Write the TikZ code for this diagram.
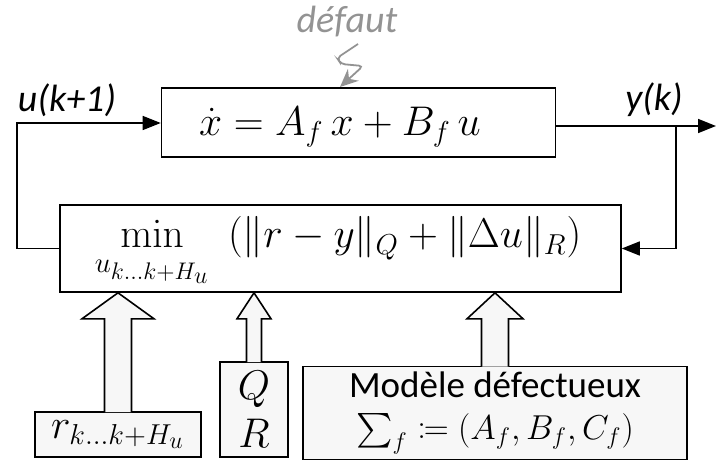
\documentclass[tikz,border=0pt]{standalone}
\usepackage{amsmath,mathtools}
\usepackage[no-math]{fontspec}
\setmainfont{Carlito}
\DeclareMathSizes{19}{20}{15}{12}
\DeclareMathSizes{18.5}{18}{13}{10}
\usetikzlibrary{arrows.meta,calc,positioning}

\begin{document}
\begin{tikzpicture}[
  x=0.5pt, y=-0.5pt,
  font=\fontsize{19}{22}\selectfont,
  block/.style={rectangle, draw, line width=0.8pt, inner sep=0pt},
  inbox/.style={rectangle, draw, line width=0.8pt, fill=gray!6, inner sep=0pt},
  fat/.style={draw, line width=0.8pt, fill=gray!6, line join=miter},
  sig/.style={line width=0.8pt, -{Triangle[length=9pt,width=7pt]}},
  lbl/.style={font=\fontsize{19}{22}\selectfont\itshape}
]
\useasboundingbox (0,0) rectangle (716,464);

% main blocks
\node[block, minimum width=197pt, minimum height=34.5pt] (plant) at (358.5,122.5) {};
\node at (340,127) {$\dot{x} = A_f\,x + B_f\,u$};
\node[block, minimum width=280.5pt, minimum height=43.5pt] (mpc) at (340.5,248.5) {};
\node at (338,252) {$\displaystyle\min_{u_{k\dots k+H_u}}\;\left(\|r-y\|_Q+\|\Delta u\|_R\right)$};

% inputs of the optimiser
\node[inbox, minimum width=83pt, minimum height=22.5pt] (ref) at (118,434.5) {$r_{k\dots k+H_u}$};
\node[inbox, minimum width=34pt, minimum height=47.5pt, align=center] (weights) at (254,409.5) {$Q$\\[2pt]$R$};
\node[inbox, minimum width=192pt, minimum height=46.5pt, align=center,
  font=\fontsize{18.5}{21}\selectfont] (model) at (495,413)
  {Modèle défectueux\\[0pt]$\sum_f \coloneqq (A_f, B_f, C_f)$};

\foreach \src/\s/\h in {ref/6.75/18, weights/3.75/8.5, model/6.75/14}
  \path[fat] let \p1=(\src.north), \p2=(mpc.south) in
    (\x1-\s pt,\y1-0.4pt) -- (\x1-\s pt,\y2-13pt) -- (\x1-\h pt,\y2-13pt) -- (\x1,\y2)
    -- (\x1+\h pt,\y2-13pt) -- (\x1+\s pt,\y2-13pt) -- (\x1+\s pt,\y1-0.4pt);

% signals
\coordinate (out) at (716,126);
\coordinate (tap) at (676,126);
\draw[sig] (mpc.west) -| (17,123) -- (plant.west |- 0,123);
\draw[line width=0.8pt] (plant.east |- tap) -- (tap);
\draw[sig] (tap) -- (out);
\draw[sig] (tap) |- (mpc.east);
\node[lbl] (uin) at (67,100) {u(k+1)};
\node[lbl] (yout) at (654,100) {y(k)};

% fault
\node[lbl, text=gray!85] (fault) at (347,22) {défaut};
\coordinate (bolt) at (358,44);
\coordinate (hit) at (340,87);
\draw[gray!85, line width=0.9pt, rounded corners=2pt, -{Stealth[length=9pt,width=8pt]}]
  (bolt) -- (337,58) -- (341,64) -- (363,66) -- (hit);
\end{tikzpicture}
\end{document}
